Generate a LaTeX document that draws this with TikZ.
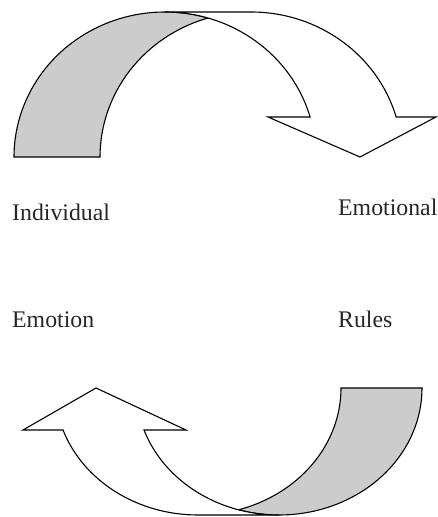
\documentclass[tikz,border=0pt]{standalone}
\usepackage{fontspec}
\setmainfont{Liberation Serif}
\definecolor{tailf}{HTML}{CCCCCC}

\begin{document}
\begin{tikzpicture}[x=1pt,y=1pt,
  font=\fontsize{23.8}{28}\selectfont,
  tail/.style={draw,line width=1.1pt,fill=tailf},
  body/.style={draw,line width=1.1pt,fill=white},
  lbl/.style={anchor=base west,inner sep=0pt,text=black!85}]
\useasboundingbox (0,0) rectangle (437,517);
% upper arrow
\draw[tail] (14,360) arc[start angle=180,end angle=73.45,x radius=151,y radius=145]
  arc[start angle=106.55,end angle=180,x radius=151,y radius=145] -- cycle;
\draw[body] (360,360) -- (268,400) -- (310.1,400)
  arc[start angle=16.01,end angle=90,x radius=151,y radius=145] -- (251,505)
  arc[start angle=90,end angle=16.01,x radius=151,y radius=145] -- (436,400) -- cycle;
% lower arrow
\draw[tail] (422,129) arc[start angle=0,end angle=-106.45,x radius=143,y radius=127]
  arc[start angle=-73.55,end angle=0,x radius=143,y radius=127] -- cycle;
\draw[body] (96,129) -- (186,87) -- (144,87)
  arc[start angle=199.31,end angle=270,x radius=143,y radius=127] -- (198,2)
  arc[start angle=270,end angle=199.31,x radius=143,y radius=127] -- (23,87) -- cycle;
% labels
\node[lbl] (ind) at (12,296) {Individual};
\node[lbl] (emo) at (338,301) {Emotional};
\node[lbl] (emn) at (12,189) {Emotion};
\node[lbl] (rul) at (338,189) {Rules};
\end{tikzpicture}
\end{document}
